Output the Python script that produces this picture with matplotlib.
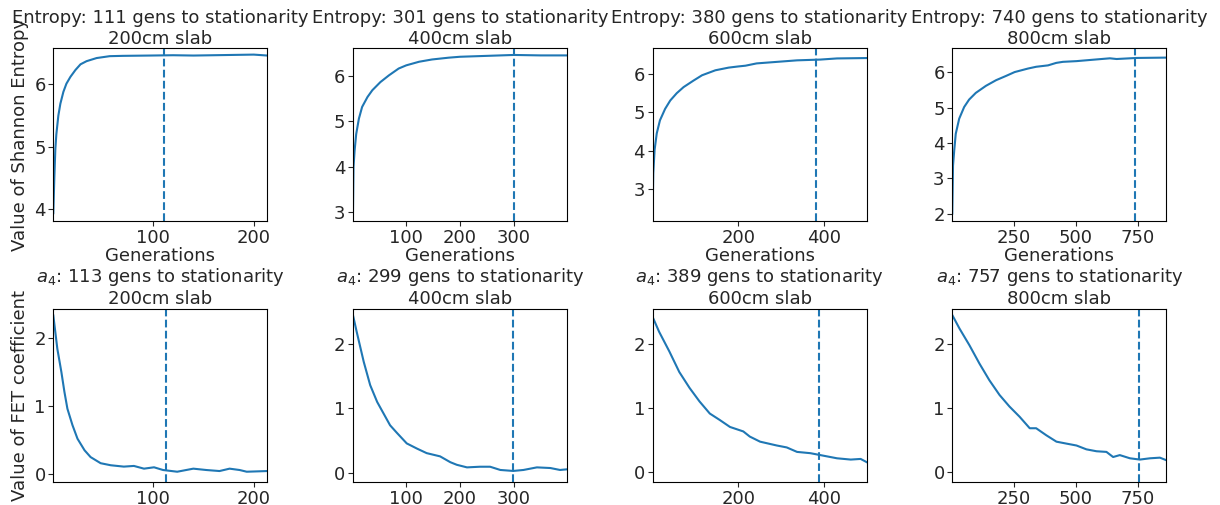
import matplotlib
matplotlib.use("Agg")
import matplotlib.pyplot as plt

slabs = ["200cm", "400cm", "600cm", "800cm"]
entropy_gens = [111, 301, 380, 740]
a4_gens = [113, 299, 389, 757]

# entropy curves (generation, value)
ent_200_x = [1, 2, 3, 4, 6, 8, 11, 14, 18, 23, 28, 34, 44, 57, 70, 97, 120, 140, 160, 180, 200, 213.5]
ent_200_y = [3.94, 4.5, 4.96, 5.2, 5.5, 5.69, 5.88, 6.01, 6.12, 6.23, 6.32, 6.37, 6.42, 6.45, 6.455,
             6.46, 6.465, 6.46, 6.465, 6.47, 6.475, 6.46]

ent_400_x = [1, 2, 4, 7, 12, 18, 28, 37, 52, 68, 86, 100, 124, 148, 179, 200, 250, 300, 350, 399]
ent_400_y = [2.97, 3.99, 4.35, 4.72, 5.06, 5.32, 5.54, 5.69, 5.87, 6.02, 6.17, 6.24, 6.32, 6.37,
             6.41, 6.43, 6.45, 6.47, 6.46, 6.46]

ent_600_x = [1, 2.5, 5.6, 10.6, 18, 30, 42, 57, 73, 96, 116, 147, 178, 200, 217, 243, 290, 337,
             391, 430, 499]
ent_600_y = [2.35, 3.41, 4.02, 4.45, 4.79, 5.09, 5.31, 5.5, 5.66, 5.83, 5.97, 6.10, 6.17, 6.2,
             6.22, 6.28, 6.32, 6.36, 6.38, 6.41, 6.42]

ent_800_x = [1, 4, 9, 15, 29, 49, 69, 96, 137, 178, 218, 253, 307, 340, 388, 421, 448, 503, 570,
             638, 665, 746, 866]
ent_800_y = [2.0, 3.36, 3.8, 4.26, 4.69, 5.02, 5.23, 5.42, 5.62, 5.78, 5.9, 6.01, 6.11, 6.16,
             6.2, 6.27, 6.3, 6.32, 6.36, 6.4, 6.38, 6.41, 6.42]

# a4 FET coefficient curves
a4_200_x = [1, 5, 9, 12, 15, 20, 25, 32, 38, 48, 58, 71, 81, 91, 101, 110, 124, 140, 153, 166,
            176, 186, 193, 213.5]
a4_200_y = [2.33, 1.84, 1.5, 1.21, 0.96, 0.72, 0.52, 0.35, 0.25, 0.16, 0.13, 0.11, 0.12, 0.08,
            0.1, 0.06, 0.035, 0.08, 0.06, 0.045, 0.08, 0.06, 0.035, 0.045]

a4_400_x = [1, 8, 21, 33, 46, 58, 70, 83, 101, 120, 138, 163, 182, 194, 213, 237, 256, 275, 299,
            318, 343, 368, 386, 399]
a4_400_y = [2.44, 2.18, 1.72, 1.36, 1.1, 0.92, 0.74, 0.62, 0.46, 0.38, 0.31, 0.26, 0.17, 0.13,
            0.09, 0.1, 0.1, 0.05, 0.035, 0.05, 0.09, 0.08, 0.05, 0.06]

a4_600_x = [1, 16, 40, 63, 87, 110, 134, 157, 181, 212, 227, 251, 290, 313, 337, 368, 399, 430,
            462, 485, 499]
a4_600_y = [2.43, 2.2, 1.89, 1.57, 1.32, 1.11, 0.92, 0.82, 0.71, 0.64, 0.56, 0.48, 0.42, 0.39,
            0.32, 0.3, 0.26, 0.22, 0.2, 0.21, 0.16]

a4_800_x = [1, 30, 70, 111, 151, 192, 232, 273, 314, 340, 381, 422, 462, 503, 543, 584, 624, 651,
            678, 719, 759, 800, 840, 866]
a4_800_y = [2.46, 2.25, 1.99, 1.7, 1.44, 1.21, 1.03, 0.87, 0.69, 0.69, 0.58, 0.48, 0.45, 0.42,
            0.36, 0.33, 0.32, 0.24, 0.27, 0.22, 0.2, 0.22, 0.23, 0.19]

ent_x = [ent_200_x, ent_400_x, ent_600_x, ent_800_x]
ent_y = [ent_200_y, ent_400_y, ent_600_y, ent_800_y]
a4_x = [a4_200_x, a4_400_x, a4_600_x, a4_800_x]
a4_y = [a4_200_y, a4_400_y, a4_600_y, a4_800_y]

x_ticks = [[100, 200], [100, 200, 300], [200, 400], [250, 500, 750]]
ent_yticks = [[4, 5, 6], [3, 4, 5, 6], [3, 4, 5, 6], [2, 3, 4, 5, 6]]
ent_ylims = [(3.81, 6.585), (2.79, 6.63), (2.15, 6.69), (1.78, 6.70)]
a4_ylims = [(-0.12, 2.43), (-0.14, 2.54), (-0.155, 2.56), (-0.155, 2.56)]

fs = 13
plt.rcParams["text.color"] = "#262626"
plt.rcParams["xtick.color"] = "#262626"
plt.rcParams["ytick.color"] = "#262626"
plt.rcParams["axes.labelcolor"] = "#262626"

fig, axes = plt.subplots(2, 4, figsize=(12.2, 5.05), dpi=100)
plt.subplots_adjust(left=0.0437, right=0.956, bottom=0.045, top=0.9055, wspace=0.40, hspace=0.503)

for i in range(4):
    ax = axes[0, i]
    ax.plot(ent_x[i], ent_y[i], color="C0", lw=1.5)
    ax.axvline(entropy_gens[i], color="C0", ls="--", lw=1.5)
    ax.set_xlim(1, ent_x[i][-1])
    ax.set_ylim(*ent_ylims[i])
    ax.set_xticks(x_ticks[i])
    ax.set_yticks(ent_yticks[i])
    ax.set_title(f"Entropy: {entropy_gens[i]} gens to stationarity\n{slabs[i]} slab", fontsize=fs, pad=3)
    ax.set_xlabel("Generations", fontsize=fs, labelpad=0)
    ax.tick_params(labelsize=fs, pad=2)

    ax = axes[1, i]
    ax.plot(a4_x[i], a4_y[i], color="C0", lw=1.5)
    ax.axvline(a4_gens[i], color="C0", ls="--", lw=1.5)
    ax.set_xlim(1, a4_x[i][-1])
    ax.set_ylim(*a4_ylims[i])
    ax.set_xticks(x_ticks[i])
    ax.set_yticks([0, 1, 2])
    ax.set_title(f"$a_4$: {a4_gens[i]} gens to stationarity\n{slabs[i]} slab", fontsize=fs, pad=3)
    ax.tick_params(labelsize=fs, pad=2)

axes[0, 0].set_ylabel("Value of Shannon Entropy", fontsize=fs)
axes[1, 0].set_ylabel("Value of FET coefficient", fontsize=fs)

plt.savefig("out.png", dpi=100)
